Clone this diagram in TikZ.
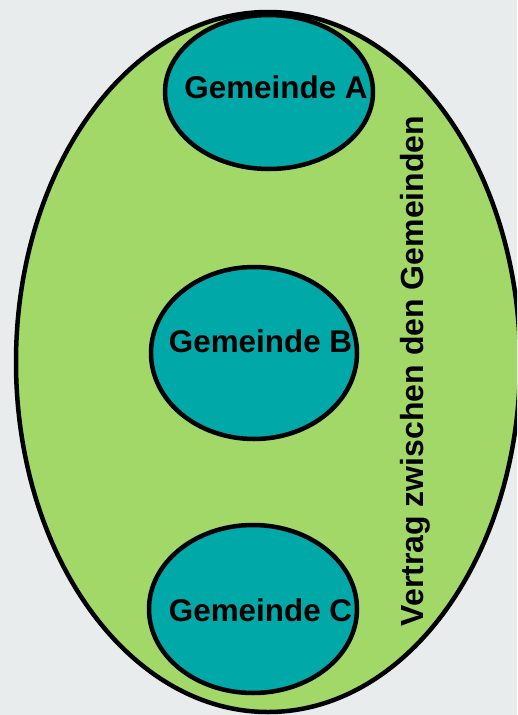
\documentclass[tikz,border=0pt]{standalone}
\usepackage{fontspec}
\setmainfont{Liberation Sans}
\usetikzlibrary{shapes.geometric}
\definecolor{bgc}{RGB}{232,236,237}
\definecolor{greenc}{RGB}{162,216,104}
\definecolor{tealc}{RGB}{0,168,168}
\begin{document}
\begin{tikzpicture}[x=1pt,y=-1pt,
  outer/.style={ellipse,draw=black,line width=4.5pt,fill=greenc,inner sep=0pt},
  town/.style={ellipse,draw=black,line width=4.5pt,fill=tealc,inner sep=0pt},
  lbl/.style={font=\fontsize{31.4}{36}\selectfont\bfseries,inner sep=0pt,anchor=base}]
\useasboundingbox (0,0) rectangle (517,715);
\begin{scope}
\clip (0,0) rectangle (517,715);
\fill[bgc] (0,0) rectangle (517,715);
\node[outer,minimum width=504pt,minimum height=700pt] (big) at (268,362) {};
\node[town,minimum width=208pt,minimum height=154pt] (gA) at (269,92) {};
\node[town,minimum width=206pt,minimum height=172pt] (gB) at (254,353) {};
\node[town,minimum width=208pt,minimum height=168pt] (gC) at (253,609) {};
\node[lbl] (tA) at (276,98) {Gemeinde A};
\node[lbl] (tB) at (260.5,352) {Gemeinde B};
\node[lbl] (tC) at (260.5,621) {Gemeinde C};
\node[lbl,font=\fontsize{32}{36}\selectfont\bfseries,rotate=90] (tV) at (423,371) {Vertrag zwischen den Gemeinden};
\end{scope}
\end{tikzpicture}
\end{document}
